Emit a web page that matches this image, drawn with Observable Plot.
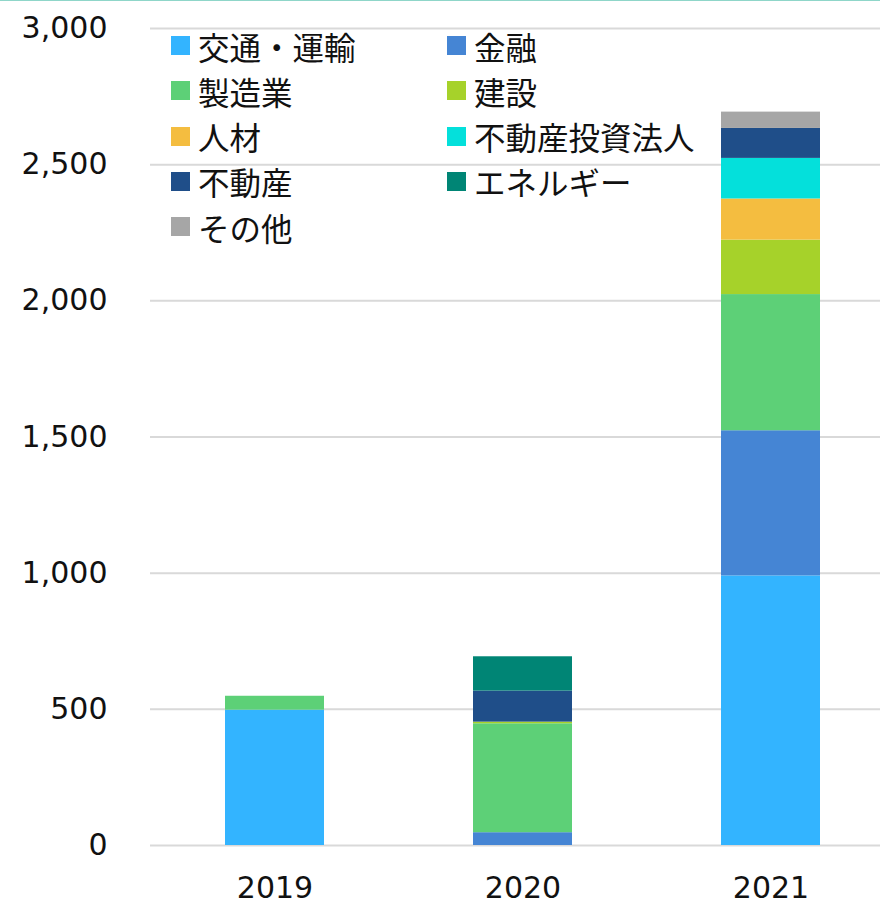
<!DOCTYPE html>
<html>
<head>
<meta charset="utf-8">
<script src="https://cdn.jsdelivr.net/npm/d3@7"></script>
<script src="https://cdn.jsdelivr.net/npm/@observablehq/plot@0.6"></script>
<style>
  html, body { margin: 0; padding: 0; background: #fff; }
  #wrap { position: relative; width: 880px; height: 905px; border-top: 1px solid #8fd6c9; box-sizing: border-box; }
  #wrap svg { position: absolute; left: 0; top: -1px; }
  .legend { position: absolute; left: 0; top: 0; font-family: "Noto Sans CJK JP", sans-serif; font-size: 31.5px; color: #111; }
  .item { position: absolute; display: flex; align-items: center; height: 45px; white-space: nowrap; }
  .sw { width: 19px; height: 19px; margin-right: 8px; }
</style>
</head>
<body>
<div id="wrap"></div>
<script>
const years = ["2019", "2020", "2021"];
const seriesNames = ["交通・運輸", "金融", "製造業", "建設", "人材", "不動産投資法人", "不動産", "エネルギー", "その他"];
const seriesColors = ["#33b4ff", "#4585d4", "#5dd077", "#a6d22a", "#f4bd40", "#04e0db", "#1f4e89", "#008575", "#a6a6a6"];
const transport = [497, 0, 990];
const finance = [0, 47, 533];
const manufacturing = [51, 400, 500];
const construction = [0, 6, 200];
const hr = [0, 0, 151];
const reit = [0, 0, 149];
const realEstate = [0, 114, 110];
const energy = [0, 126, 0];
const other = [0, 0, 60];
const yTicks = [0, 500, 1000, 1500, 2000, 2500, 3000];

const seriesValues = [transport, finance, manufacturing, construction, hr, reit, realEstate, energy, other];
const data = [];
seriesNames.forEach((s, i) => years.forEach((y, j) => data.push({ series: s, year: y, value: seriesValues[i][j] })));

const chart = Plot.plot({
  width: 880,
  height: 905,
  marginLeft: 150,
  marginRight: 0,
  marginTop: 28,
  marginBottom: 60,
  style: { fontFamily: "DejaVu Sans, Verdana, sans-serif", fontSize: "30px", color: "#111", background: "transparent" },
  x: { domain: years, range: [150, 896], paddingInner: 0.6, paddingOuter: 0.3, label: null },
  y: { domain: [0, 3000], label: null },
  color: { domain: seriesNames, range: seriesColors },
  marks: [
    Plot.gridY(yTicks, { stroke: "#d9d9d9", strokeOpacity: 1, strokeWidth: 2 }),
    Plot.barY(data, { x: "year", y: "value", fill: "series", order: seriesNames }),
    Plot.axisY(yTicks, { tickSize: 0, tickPadding: 43, tickFormat: d3.format(","), label: null }),
    Plot.axisX({ tickSize: 0, tickPadding: 31, label: null })
  ]
});
const wrap = document.getElementById("wrap");
wrap.appendChild(chart);

const legend = document.createElement("div");
legend.className = "legend";
seriesNames.forEach((s, i) => {
  const col = i % 2, row = Math.floor(i / 2);
  const it = document.createElement("div");
  it.className = "item";
  it.style.left = (col === 0 ? 171 : 447) + "px";
  it.style.top = (22 + row * 45.25) + "px";
  const sw = document.createElement("span");
  sw.className = "sw";
  sw.style.background = seriesColors[i];
  const tx = document.createElement("span");
  tx.textContent = s;
  it.appendChild(sw);
  it.appendChild(tx);
  legend.appendChild(it);
});
wrap.appendChild(legend);
</script>
</body>
</html>
